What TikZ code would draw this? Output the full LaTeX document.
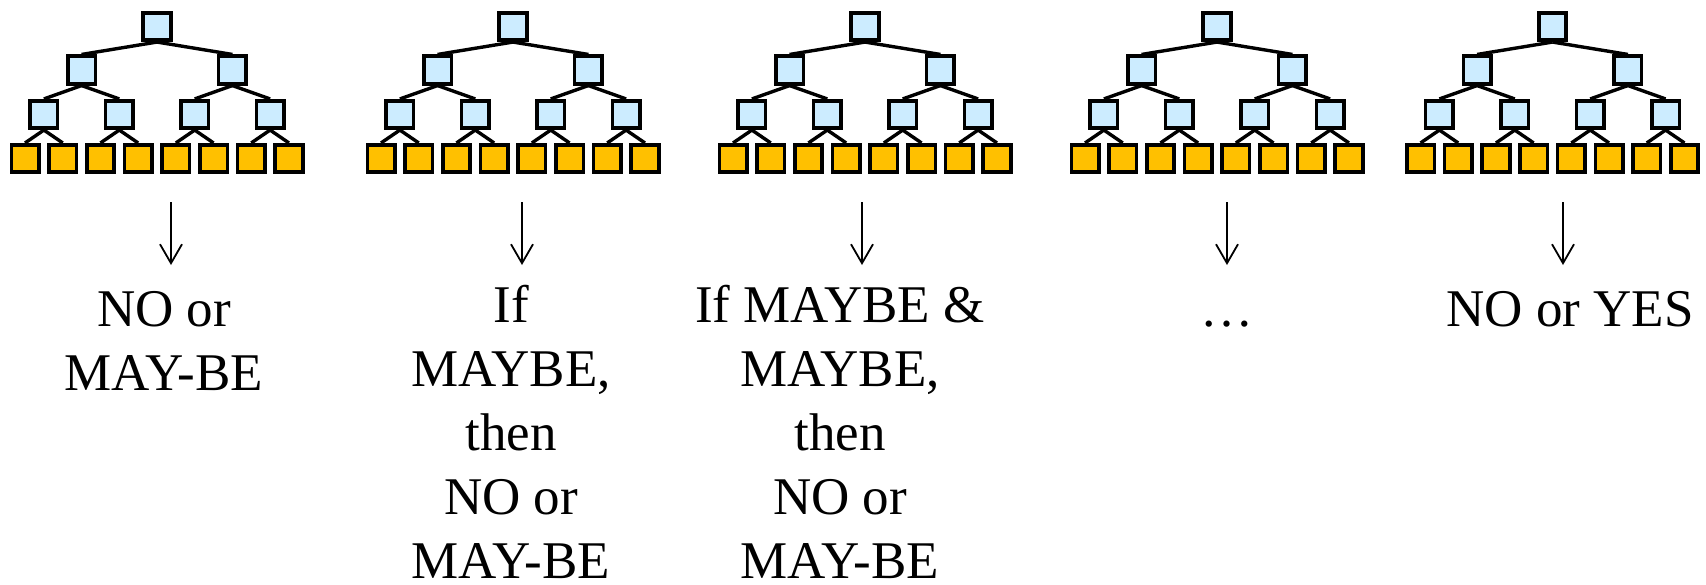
\documentclass[tikz,border=0pt]{standalone}
\usepackage{fontspec}
\setmainfont{Liberation Serif}
\usetikzlibrary{arrows.meta}
\definecolor{nodeblue}{HTML}{CCECFF}
\definecolor{leaforange}{HTML}{FFC000}
\begin{document}
\begin{tikzpicture}[x=1pt,y=-1pt,
  innerbox/.style={draw=black, line width=3.6pt, fill=nodeblue, minimum size=27.5pt, inner sep=0pt},
  leafbox/.style={innerbox, fill=leaforange},
  treeedge/.style={line width=3.4pt},
  downarrow/.style={line width=1.8pt, -{Straight Barb[length=19pt,width=22pt]}},
  answer/.style={font=\fontsize{53}{64}\selectfont, align=center, anchor=base, inner sep=0pt}]
\useasboundingbox (0,0) rectangle (1706,584);
\foreach \t/\cx in {1/157,2/513,3/865,4/1217,5/1552.5} {
  \node[innerbox] (T\t-1) at (\cx,26.5) {};
  \foreach \i in {2,3} \node[innerbox] (T\t-\i) at ({\cx+(\i-2.5)*150.8},70) {};
  \foreach \i in {4,...,7} \node[innerbox] (T\t-\i) at ({\cx+(\i-5.5)*75.4},114.5) {};
  \foreach \i in {8,...,15} \node[leafbox] (T\t-\i) at ({\cx+(\i-11.5)*37.7},158.5) {};
  \foreach \i in {1,...,7} {
    \pgfmathtruncatemacro{\l}{2*\i}
    \pgfmathtruncatemacro{\r}{2*\i+1}
    \draw[treeedge] (T\t-\i.south) -- (T\t-\l.north);
    \draw[treeedge] (T\t-\i.south) -- (T\t-\r.north);
  }
}
\foreach \a/\ax in {1/171,2/522,3/862,4/1227,5/1563} {
  \coordinate (A\a-s) at (\ax,202);
  \coordinate (A\a-e) at (\ax,265);
  \draw[downarrow] (A\a-s) -- (A\a-e);
}
\node[answer] (L1) at (164,390) {NO or\\MAY-BE};
\node[answer] (L2) at (511,578) {If\\MAYBE,\\then\\NO or\\MAY-BE};
\node[answer] (L3) at (840,578) {If MAYBE \&\\MAYBE,\\then\\NO or\\MAY-BE};
\node[answer] (L4) at (1227,326) {…};
\node[answer] (L5) at (1570,326) {NO or YES};
\end{tikzpicture}
\end{document}
